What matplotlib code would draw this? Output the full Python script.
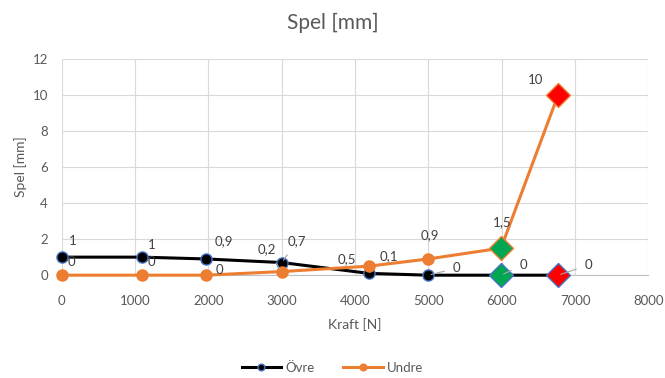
import matplotlib.pyplot as plt

plt.rcParams['font.family'] = ['Lato', 'DejaVu Sans']

# Spel som funktion av kraft
kraft = [0, 1090, 1960, 3000, 4190, 5000, 5990, 6770]
ovre = [1, 1, 0.9, 0.7, 0.1, 0, 0, 0]
undre = [0, 0, 0, 0.2, 0.5, 0.9, 1.5, 10]
ovre_txt = ["1", "1", "0,9", "0,7", "0,1", "0", "0", "0"]
undre_txt = ["0", "0", "0", "0,2", "0,5", "0,9", "1,5", "10"]

# label offsets in pixels, and whether a leader line is drawn
ovre_off = [(11, 16), (10, 12), (18, 18), (15, 21), (20, 17), (28, 7), (22, 10), (30, 10)]
ovre_lead = [False, False, False, True, False, True, True, True]
undre_off = [(10, 13), (10, 13), (14, 5), (-15, 22), (-22, 7), (1, 24), (1, 26), (-23, 15)]
undre_lead = [False, False, False, True, False, False, False, False]

ORANGE = '#ED7D31'
GRAY = '#595959'

fig, ax = plt.subplots(figsize=(6.65, 3.78), dpi=100)
fig.subplots_adjust(left=0.093, right=0.975, top=0.845, bottom=0.272)

ax.plot(kraft, ovre, color='black', lw=2.2, marker='o', ms=8,
        mfc='black', mec='#4472C4', mew=1, label='Övre', zorder=3)
ax.plot(kraft, undre, color=ORANGE, lw=2.2, marker='o', ms=8,
        mfc=ORANGE, mec=ORANGE, label='Undre', zorder=3)

# highlighted points at the two highest loads
for i, col in [(6, '#00A651'), (7, '#FF0000')]:
    ax.plot(kraft[i], ovre[i], marker='D', ms=12, mfc=col, mec='#4472C4', mew=1, zorder=4)
    ax.plot(kraft[i], undre[i], marker='D', ms=12, mfc=col, mec=ORANGE, mew=1, zorder=4)

def label(xs, ys, txts, offs, leads):
    for x, y, t, (dx, dy), lead in zip(xs, ys, txts, offs, leads):
        props = dict(arrowstyle='-', color='#A6A6A6', lw=0.8, shrinkA=4, shrinkB=2) if lead else None
        ax.annotate(t, (x, y), xytext=(dx, dy), textcoords='offset pixels',
                    ha='center', va='center', fontsize=9.5, color='#404040',
                    arrowprops=props, zorder=5)

label(kraft, ovre, ovre_txt, ovre_off, ovre_lead)
label(kraft, undre, undre_txt, undre_off, undre_lead)

ax.set_xlim(0, 8000)
ax.set_ylim(0, 12)
ax.set_xticks(range(0, 8001, 1000))
ax.set_yticks(range(0, 13, 2))
ax.grid(True, color='#D9D9D9', lw=0.8)
ax.set_axisbelow(True)
for s in ['top', 'right', 'left']:
    ax.spines[s].set_visible(False)
ax.spines['bottom'].set_color('#BFBFBF')
ax.tick_params(axis='x', length=0, labelsize=9.5, colors=GRAY, pad=14)
ax.tick_params(axis='y', length=0, labelsize=9.5, colors=GRAY, pad=10)
for ln in ax.lines:
    ln.set_clip_on(False)

fig.suptitle('Spel [mm]', x=0.5, y=0.965, fontsize=15, color=GRAY)
ax.set_xlabel('Kraft [N]', fontsize=10, color=GRAY, labelpad=8)
ax.set_ylabel('Spel [mm]', fontsize=10, color=GRAY, labelpad=4)

handles, names = ax.get_legend_handles_labels()
fig.legend(handles, names, loc='center', bbox_to_anchor=(0.5, 0.027), ncol=2, frameon=False,
           fontsize=9.5, labelcolor=GRAY, handlelength=3, markerscale=0.6,
           columnspacing=2.2, handletextpad=0.3)

fig.savefig('out.png', dpi=100)
